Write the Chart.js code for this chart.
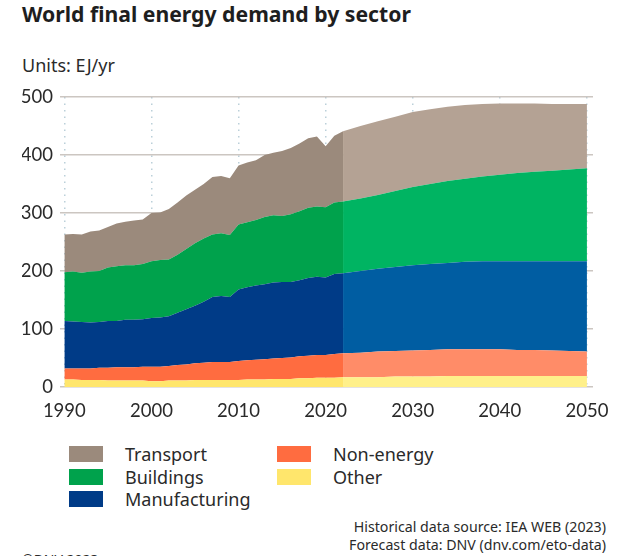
<!DOCTYPE html>
<html>
<head>
<meta charset="utf-8">
<script src="https://cdn.jsdelivr.net/npm/chart.js@4.4.0/dist/chart.umd.min.js"></script>
<style>
    body { margin: 0; width: 624px; height: 556px; background: #fff; overflow: hidden; position: relative; font-family: "Noto Sans", Lato, sans-serif; color: #333; }
    #title { position: absolute; left: 22px; top: 1px; font-size: 21.2px; line-height: 1.2; font-weight: 700; color: #1e1e1e; white-space: nowrap; }
    #units { position: absolute; left: 22px; top: 55px; font-size: 18px; line-height: 1.2; color: #2a2a2a; }
    #chartWrap { position: absolute; left: 0; top: 0; }
    .legend-item { position: absolute; height: 22px; display: flex; align-items: center; font-size: 18px; line-height: 1.2; color: #2a2a2a; white-space: nowrap; }
    .legend-item .sw { width: 34px; height: 16px; margin-right: 22px; margin-top: -2px; }
    #source { position: absolute; right: 18px; top: 518px; font-size: 14.2px; line-height: 18px; text-align: right; color: #2a2a2a; }
    #copy { position: absolute; left: 22px; top: 552px; font-size: 14px; line-height: 1.2; color: #2a2a2a; }
</style>
</head>
<body>
<div id="title">World final energy demand by sector</div>
<div id="units">Units: EJ/yr</div>
<div id="chartWrap"><canvas id="energyChart" width="624" height="430"></canvas></div>
<div id="legend"></div>
<div id="source">Historical data source: IEA WEB (2023)<br>Forecast data: DNV (dnv.com/eto-data)</div>
<div id="copy">©DNV 2023</div>
<script>
// historical years 1990..2022, forecast years 2022..2050 (every 2 years)
const histYears = Array.from({ length: 33 }, (_, i) => 1990 + i);
const fcYears = Array.from({ length: 15 }, (_, i) => 2022 + i * 2);
const tickYears = [1990, 2000, 2010, 2020, 2030, 2040, 2050];

// EJ/yr per sector, historical
const histOther = [13, 13, 12, 12, 12, 11, 11, 11, 11, 11, 10, 10, 11, 11, 11, 12, 12, 12, 12, 12, 12, 13, 13, 13, 14, 14, 14, 15, 15, 16, 16, 16, 17];
const histNonEnergy = [19, 19, 20, 20, 21, 22, 23, 23, 23, 24, 25, 25, 25, 27, 28, 29, 30, 31, 31, 31, 33, 33, 34, 35, 35, 36, 37, 38, 39, 39, 39, 41, 41];
const histManufacturing = [82, 81, 80, 79, 79, 81, 80, 82, 82, 82, 84, 85, 86, 90, 95, 99, 105, 112, 114, 112, 123, 126, 128, 129, 131, 131, 130, 131, 134, 135, 134, 138, 138];
const histBuildings = [84, 86, 85, 88, 88, 92, 94, 94, 94, 95, 98, 99, 98, 100, 104, 108, 109, 108, 108, 107, 112, 112, 113, 116, 116, 114, 117, 119, 121, 121, 121, 123, 124];
const histTransport = [65, 65, 66, 69, 70, 70, 74, 75, 77, 77, 83, 82, 87, 90, 92, 92, 94, 99, 99, 98, 102, 103, 103, 107, 108, 112, 114, 117, 120, 121, 105, 115, 121];

// EJ/yr per sector, forecast
const fcOther = [17, 17, 17, 18, 18, 18, 19, 19, 19, 19, 19, 19, 19, 19, 19];
const fcNonEnergy = [41, 42, 44, 44, 45, 46, 46, 46, 46, 46, 45, 45, 44, 43, 42];
const fcManufacturing = [138, 141, 143, 145, 147, 148, 149, 151, 152, 152, 153, 153, 154, 155, 156];
const fcBuildings = [124, 125, 127, 131, 135, 138, 141, 143, 146, 149, 152, 154, 156, 158, 160];
const fcTransport = [121, 125, 127, 128, 129, 129, 128, 127, 125, 123, 120, 118, 115, 113, 111];

const sectors = ['Other', 'Non-energy', 'Manufacturing', 'Buildings', 'Transport'];
const histColors = ['#ffe66c', '#ff6c40', '#003b87', '#00a24c', '#9b8a7c'];
const fcColors = ['#fff08a', '#ff8c68', '#005da2', '#00b462', '#b4a294'];

const histSeries = [histOther, histNonEnergy, histManufacturing, histBuildings, histTransport];
const fcSeries = [fcOther, fcNonEnergy, fcManufacturing, fcBuildings, fcTransport];

function makeSet(name, years, values, color, stack, first) {
    return {
        label: name,
        data: years.map((y, i) => ({ x: y, y: values[i] })),
        backgroundColor: color,
        borderWidth: 0,
        pointRadius: 0,
        fill: first ? 'origin' : '-1',
        stack: stack,
        tension: 0
    };
}

const datasets = [];
sectors.forEach((s, i) => datasets.push(makeSet(s, histYears, histSeries[i], histColors[i], 'hist', i === 0)));
sectors.forEach((s, i) => datasets.push(makeSet(s, fcYears, fcSeries[i], fcColors[i], 'fc', i === 0)));

const tickFont = { family: 'Lato', size: 18.5 };

new Chart(document.getElementById('energyChart'), {
    type: 'line',
    data: { datasets: datasets },
    options: {
        responsive: false,
        animation: false,
        layout: { padding: { left: 22, right: 31, top: 97, bottom: 13 } },
        plugins: {
            legend: { display: false },
            tooltip: { enabled: false }
        },
        scales: {
            x: {
                type: 'linear',
                min: 1989.5,
                max: 2050.7,
                z: 1,
                afterBuildTicks: scale => { scale.ticks = tickYears.map(v => ({ value: v })); },
                afterFit: scale => { scale.height = 30; },
                ticks: { callback: v => String(v), font: tickFont, color: '#2a2a2a', padding: 13, maxRotation: 0, autoSkip: false },
                grid: { color: 'rgba(175,200,210,0.85)', lineWidth: 1.5, drawTicks: false },
                border: { display: false, dash: [1.5, 5] }
            },
            y: {
                stacked: true,
                min: 0,
                max: 500,
                z: 1,
                afterFit: scale => { scale.width = 38; },
                ticks: { stepSize: 100, font: tickFont, color: '#2a2a2a', padding: 7 },
                grid: { color: 'rgba(195,188,182,0.85)', lineWidth: 1.5, drawTicks: false },
                border: { display: false }
            }
        }
    }
});

// legend, two columns
const legendOrder = [['Transport', 'Buildings', 'Manufacturing'], ['Non-energy', 'Other']];
const colLeft = [69, 277];
const legend = document.getElementById('legend');
legendOrder.forEach((col, c) => {
    col.forEach((name, r) => {
        const item = document.createElement('div');
        item.className = 'legend-item';
        item.style.left = colLeft[c] + 'px';
        item.style.top = (444 + r * 22.5) + 'px';
        const sw = document.createElement('span');
        sw.className = 'sw';
        sw.style.background = histColors[sectors.indexOf(name)];
        item.appendChild(sw);
        item.appendChild(document.createTextNode(name));
        legend.appendChild(item);
    });
});
</script>
</body>
</html>
